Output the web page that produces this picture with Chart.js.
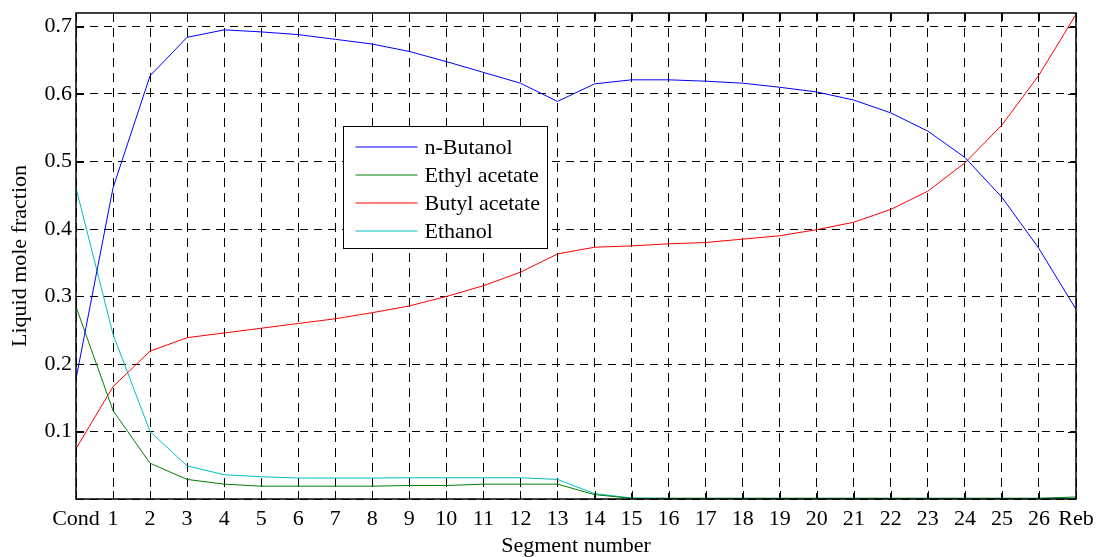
<!DOCTYPE html>
<html>
<head>
<meta charset="utf-8">
<script src="https://cdn.jsdelivr.net/npm/chart.js@4.4.1/dist/chart.umd.min.js"></script>
<style>
  html, body { margin: 0; padding: 0; background: #fff; }
</style>
</head>
<body>
<canvas id="chart" width="1096" height="557"></canvas>
<script>
const segments = ['Cond', '1', '2', '3', '4', '5', '6', '7', '8', '9', '10', '11', '12', '13',
    '14', '15', '16', '17', '18', '19', '20', '21', '22', '23', '24', '25', '26', 'Reb'];
const yTicks = [0, 0.1, 0.2, 0.3, 0.4, 0.5, 0.6, 0.7];

const nButanol = [0.178, 0.461, 0.627, 0.684, 0.695, 0.692, 0.688, 0.681, 0.674, 0.663, 0.648,
    0.632, 0.616, 0.589, 0.615, 0.621, 0.621, 0.619, 0.616, 0.610, 0.603, 0.591, 0.572, 0.545,
    0.506, 0.447, 0.371, 0.281];
const ethylAcetate = [0.285, 0.131, 0.053, 0.029, 0.022, 0.019, 0.019, 0.019, 0.019, 0.020, 0.020,
    0.022, 0.022, 0.022, 0.0065, 0.001, 0.001, 0.001, 0.001, 0.001, 0.001, 0.001, 0.001, 0.001,
    0.001, 0.001, 0.001, 0.003];
const butylAcetate = [0.0745, 0.1665, 0.219, 0.239, 0.246, 0.253, 0.260, 0.267, 0.276, 0.286, 0.300,
    0.316, 0.336, 0.363, 0.373, 0.375, 0.378, 0.380, 0.385, 0.390, 0.399, 0.410, 0.429, 0.456,
    0.498, 0.554, 0.628, 0.718];
const ethanol = [0.461, 0.244, 0.100, 0.049, 0.036, 0.033, 0.031, 0.031, 0.031, 0.0315, 0.0315,
    0.0315, 0.0315, 0.029, 0.008, 0.0015, 0.001, 0.001, 0.001, 0.001, 0.001, 0.001, 0.001, 0.001,
    0.001, 0.001, 0.001, 0.001];

const FONT = 'Liberation Serif, Times New Roman, serif';
const FONT_SIZE = 22;

function series(label, data, color) {
    return { label, data, borderColor: color, backgroundColor: color, borderWidth: 1,
        pointRadius: 0, tension: 0, fill: false };
}

// box, inner ticks and the legend, MATLAB style
const framePlugin = {
    id: 'frame',
    afterDatasetsDraw(chart) {
        const { ctx, chartArea: a, scales: { x, y } } = chart;
        const tl = 8;
        ctx.save();
        ctx.strokeStyle = '#000';
        ctx.lineWidth = 1;
        ctx.setLineDash([]);
        ctx.beginPath();
        x.ticks.forEach((t, i) => {
            const px = Math.round(x.getPixelForTick(i)) + 0.5;
            ctx.moveTo(px, a.bottom); ctx.lineTo(px, a.bottom - tl);
            ctx.moveTo(px, a.top); ctx.lineTo(px, a.top + tl);
        });
        y.ticks.forEach((t, i) => {
            const py = Math.round(y.getPixelForTick(i)) + 0.5;
            ctx.moveTo(a.left, py); ctx.lineTo(a.left + tl, py);
            ctx.moveTo(a.right, py); ctx.lineTo(a.right - tl, py);
        });
        ctx.stroke();
        ctx.lineWidth = 1.5;
        ctx.strokeRect(a.left, a.top, a.right - a.left, a.bottom - a.top);

        // legend
        const bx = Math.round(a.left + 267) + 0.5, by = Math.round(a.top + 113) + 0.5;
        const bw = 204, bh = 122;
        ctx.fillStyle = '#fff';
        ctx.fillRect(bx, by, bw, bh);
        ctx.lineWidth = 1;
        ctx.strokeStyle = '#000';
        ctx.strokeRect(bx, by, bw, bh);
        ctx.font = FONT_SIZE + 'px ' + FONT;
        ctx.textBaseline = 'middle';
        ctx.textAlign = 'left';
        chart.data.datasets.forEach((ds, i) => {
            const ry = Math.round(by + 20 + i * 28);
            ctx.beginPath();
            ctx.strokeStyle = ds.borderColor;
            ctx.lineWidth = 1.2;
            ctx.moveTo(bx + 12, ry);
            ctx.lineTo(bx + 74, ry);
            ctx.stroke();
            ctx.fillStyle = '#000';
            ctx.fillText(ds.label, bx + 81, ry + 1);
        });
        ctx.restore();
    }
};

new Chart(document.getElementById('chart'), {
    type: 'line',
    data: {
        labels: segments,
        datasets: [
            series('n-Butanol', nButanol, '#0000ff'),
            series('Ethyl acetate', ethylAcetate, '#008000'),
            series('Butyl acetate', butylAcetate, '#ff0000'),
            series('Ethanol', ethanol, '#00bfbf')
        ]
    },
    options: {
        responsive: false,
        animation: false,
        layout: { padding: { top: 13, right: 20, left: 0, bottom: 0 } },
        plugins: { legend: { display: false }, tooltip: { enabled: false } },
        scales: {
            x: {
                offset: false,
                grid: { color: '#000', lineWidth: 1, drawTicks: false },
                border: { display: false, dash: [9, 6] },
                ticks: { autoSkip: false, maxRotation: 0, padding: 7, color: '#000',
                    font: { family: FONT, size: FONT_SIZE } },
                title: { display: true, text: 'Segment number', color: '#000', padding: { top: 0, bottom: -2 },
                    font: { family: FONT, size: FONT_SIZE } },
                afterFit: s => { s.height = 58; s.paddingLeft = 0; s.paddingRight = 0; }
            },
            y: {
                min: 0,
                max: 0.72,
                grid: { color: '#000', lineWidth: 1, drawTicks: false },
                border: { display: false, dash: [8, 6] },
                afterBuildTicks: s => { s.ticks = yTicks.map(v => ({ value: v })); },
                ticks: { padding: 4, color: '#000',
                    font: { family: FONT, size: FONT_SIZE },
                    callback: v => v > 0 ? v.toFixed(1) : '' },
                title: { display: true, text: 'Liquid mole fraction', color: '#000', padding: { top: 7, bottom: 0 },
                    font: { family: FONT, size: FONT_SIZE } },
                afterFit: s => { s.width = 76; s.paddingTop = 0; s.paddingBottom = 0; }
            }
        }
    },
    plugins: [framePlugin]
});
</script>
</body>
</html>
